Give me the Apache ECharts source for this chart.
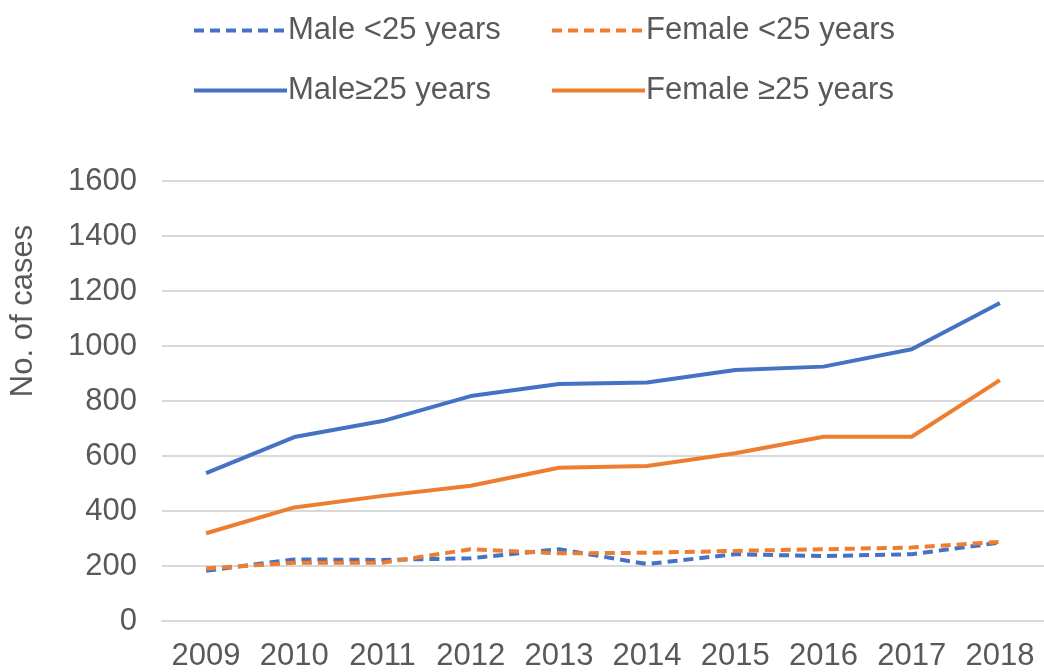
<!DOCTYPE html>
<html>
<head>
<meta charset="UTF-8">
<title>No. of cases</title>
<script src="https://cdn.jsdelivr.net/npm/echarts@6/dist/echarts.min.js"></script>
<style>
	html,body{margin:0;padding:0;background:#fff;}
	#main{width:1044px;height:672px;}
</style>
</head>
<body>
<div id="main"></div>
<script type="text/javascript">
	var years = ['2009','2010','2011','2012','2013','2014','2015','2016','2017','2018'];
	var maleUnder25 = [183, 224, 222, 228, 261, 207, 243, 236, 243, 285];
	var femaleUnder25 = [191, 212, 212, 261, 246, 248, 255, 261, 267, 288];
	var maleOver25 = [538, 669, 727, 818, 862, 867, 913, 925, 988, 1156];
	var femaleOver25 = [319, 413, 455, 492, 557, 564, 610, 670, 670, 876];

	var blue = '#4472C4', orange = '#ED7D31', grey = '#595959';
	var font = 'Liberation Sans, Arial, sans-serif';

	function legendAt(name, left, top){
		return {
			data:[name], left:left, top:top, itemWidth:93, itemHeight:14, itemGap:0,
			itemStyle:{opacity:0},
			lineStyle:{width:4},
			textStyle:{color:grey, fontSize:31, fontFamily:font, padding:[0,0,0,-4]}
		};
	}
	function line(name, data, color, dashed){
		return {
			name:name, type:'line', data:data, symbol:'none', smooth:false,
			lineStyle:{color:color, width:4, type: dashed ? [10,6] : 'solid'},
			itemStyle:{color:color}
		};
	}

	var myChart = echarts.init(document.getElementById('main'));
	myChart.setOption({
		animation:false,
		legend:[
			legendAt('Male <25 years', 187, 10),
			legendAt('Female <25 years', 545, 10),
			legendAt('Male≥25 years', 187, 70),
			legendAt('Female ≥25 years', 545, 70)
		],
		grid:{left:162, top:181, width:889, height:440},
		xAxis:{
			type:'category', data:years, boundaryGap:true,
			axisLine:{lineStyle:{color:'#D9D9D9', width:2}},
			axisTick:{show:false},
			axisLabel:{color:grey, fontSize:31, fontFamily:font, margin:20, interval:0}
		},
		yAxis:{
			type:'value', min:0, max:1600, interval:200,
			axisLine:{show:false}, axisTick:{show:false},
			splitLine:{lineStyle:{color:'#D9D9D9', width:2}},
			axisLabel:{color:grey, fontSize:31, fontFamily:font, margin:25,
				formatter:function(v){ return String(v); }}
		},
		graphic:[{
			type:'text', x:23, y:311, rotation:Math.PI/2,
			style:{text:'No. of cases', fill:grey, fontSize:31, fontFamily:font, align:'center', verticalAlign:'middle'}
		}],
		series:[
			line('Male <25 years', maleUnder25, blue, true),
			line('Female <25 years', femaleUnder25, orange, true),
			line('Male≥25 years', maleOver25, blue, false),
			line('Female ≥25 years', femaleOver25, orange, false)
		]
	});
</script>
</body>
</html>
